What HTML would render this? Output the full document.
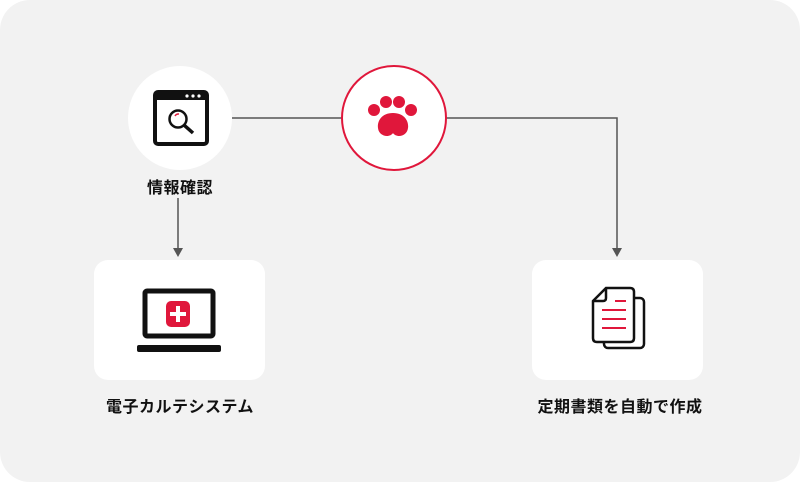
<!DOCTYPE html>
<html><head><meta charset="utf-8"><style>
html,body{margin:0;padding:0;background:#fff;}
.wrap{position:relative;width:800px;height:482px;background:#f2f2f2;border-radius:30px;overflow:hidden;font-family:"Liberation Sans","Noto Sans CJK JP",sans-serif;}
.lbl{position:absolute;font-size:16px;font-weight:bold;color:#111;text-align:center;letter-spacing:0.5px;}
.box{position:absolute;background:#fff;border-radius:14px;}
</style></head><body><div class="wrap">
<svg width="800" height="482" style="position:absolute;left:0;top:0">
<line x1="232" y1="118" x2="342" y2="118" stroke="#555" stroke-width="1.5"/>
<polyline points="446,118 617,118 617,250" fill="none" stroke="#555" stroke-width="1.5"/>
<polygon points="612,248 622,248 617,257" fill="#555"/>
<line x1="178" y1="198" x2="178" y2="250" stroke="#555" stroke-width="1.5"/>
<polygon points="173,248 183,248 178,257" fill="#555"/>
<circle cx="180" cy="118" r="52" fill="#fff"/>
<circle cx="394" cy="118" r="52" fill="#fff" stroke="#e0173b" stroke-width="2"/>
<rect x="155" y="92" width="52" height="52" rx="3" fill="#fff" stroke="#111" stroke-width="4"/>
<rect x="155" y="92" width="52" height="8" fill="#111"/>
<circle cx="187" cy="96" r="1.6" fill="#fff"/><circle cx="193" cy="96" r="1.6" fill="#fff"/><circle cx="199" cy="96" r="1.6" fill="#fff"/>
<circle cx="178" cy="119" r="8.5" fill="none" stroke="#111" stroke-width="2.5"/>
<line x1="184.5" y1="125.5" x2="193" y2="133" stroke="#111" stroke-width="3.5"/>
<path d="M175 116 a4 4 0 0 1 4 -2" stroke="#e0173b" stroke-width="1.5" fill="none"/>
<circle cx="374" cy="110" r="6" fill="#e0173b"/><circle cx="386" cy="102" r="6" fill="#e0173b"/><circle cx="399" cy="102" r="6" fill="#e0173b"/><circle cx="411" cy="110" r="6" fill="#e0173b"/>
<path d="M393 113 C381 113 377 122 378 128 C379 137 390 138 393 133 C396 138 407 137 408 128 C409 122 405 113 393 113Z" fill="#e0173b"/>
</svg>
<div class="lbl" style="left:120px;top:174px;width:120px;">情報確認</div>
<div class="box" style="left:94px;top:260px;width:171px;height:120px;"></div>
<div class="box" style="left:532px;top:260px;width:171px;height:120px;"></div>
<svg width="800" height="482" style="position:absolute;left:0;top:0">
<rect x="145" y="291" width="68" height="45" rx="2" fill="#fff" stroke="#111" stroke-width="5"/>
<rect x="137" y="345" width="84" height="7" rx="2" fill="#111"/>
<rect x="166" y="301" width="24" height="26" rx="5" fill="#e0173b"/>
<rect x="176" y="306" width="4" height="16" fill="#fff"/><rect x="170" y="312" width="16" height="4" fill="#fff"/>
<rect x="604" y="298" width="40" height="50" rx="4" fill="#fff" stroke="#111" stroke-width="2.5"/>
<path d="M606 288 L630 288 Q634 288 634 292 L634 338 Q634 342 630 342 L597 342 Q593 342 593 338 L593 301 Z" fill="#fff" stroke="#111" stroke-width="2.5"/>
<path d="M593 301 L603 301 Q606 301 606 298 L606 288" fill="none" stroke="#111" stroke-width="2.5"/>
<g stroke="#e0173b" stroke-width="2"><line x1="615" y1="301" x2="626" y2="301"/><line x1="602" y1="310" x2="626" y2="310"/><line x1="602" y1="319" x2="626" y2="319"/><line x1="602" y1="328" x2="626" y2="328"/></g>
</svg>
<div class="lbl" style="left:80px;top:393px;width:200px;">電子カルテシステム</div>
<div class="lbl" style="left:510px;top:393px;width:220px;">定期書類を自動で作成</div>
</div></body></html>
